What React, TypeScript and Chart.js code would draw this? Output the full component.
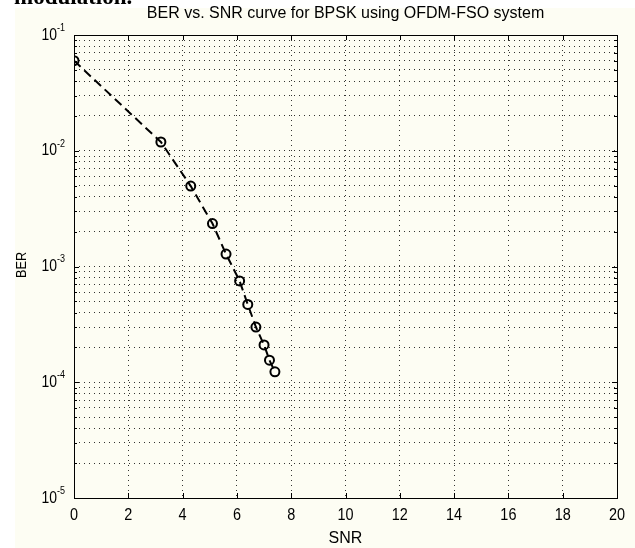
import React, { useEffect, useRef } from "react";
import { Chart, registerables } from "chart.js";

Chart.register(...registerables);

const snr = [0, 3.2, 4.3, 5.1, 5.6, 6.1, 6.4, 6.7, 7.0, 7.2, 7.4];
const ber = [0.06, 0.0119, 0.00495, 0.00235, 0.00128, 0.00075, 0.00047, 0.0003, 0.00021, 0.000155, 0.000123];
const xTicks = [0, 2, 4, 6, 8, 10, 12, 14, 16, 18, 20];
const yDecades = [-5, -4, -3, -2, -1];
const titleText = "BER vs. SNR curve for BPSK using OFDM-FSO system";
const xLabel = "SNR";
const yLabel = "BER";
const captionText = "modulation.";

const BG = "#fdfdf3";
const FONT = '"Liberation Sans", Arial, sans-serif';
const GRID = "rgba(0,0,0,0.8)";

function logTicks(): number[] {
  const out: number[] = [];
  for (let i = 0; i < yDecades.length; i++) {
    const d = yDecades[i];
    if (i === yDecades.length - 1) {
      out.push(Math.pow(10, d));
    } else {
      for (let m = 1; m <= 9; m++) out.push(m * Math.pow(10, d));
    }
  }
  return out;
}

function scaledText(ctx: any, text: string, x: number, y: number, font: string, sx: number, align: string, rot = 0) {
  ctx.save();
  ctx.translate(x, y);
  if (rot) ctx.rotate(rot);
  ctx.scale(sx, 1);
  ctx.font = font;
  ctx.textAlign = align;
  ctx.textBaseline = "middle";
  ctx.fillText(text, 0, 0);
  ctx.restore();
}

const decorPlugin = {
  id: "decor",
  beforeDraw(chart: any) {
    const ctx = chart.ctx;
    ctx.save();
    ctx.fillStyle = "#ffffff";
    ctx.fillRect(0, 0, chart.width, chart.height);
    ctx.fillStyle = BG;
    ctx.fillRect(15, 8, chart.width - 15, chart.height - 8);
    ctx.restore();
  },
  afterDraw(chart: any) {
    const ctx = chart.ctx;
    const a = chart.chartArea;
    const xs = chart.scales.x;
    const ys = chart.scales.y;
    ctx.save();
    // box
    ctx.strokeStyle = "#000";
    ctx.lineWidth = 1;
    ctx.setLineDash([]);
    ctx.strokeRect(Math.round(a.left) + 0.5, Math.round(a.top) + 0.5, Math.round(a.right - a.left), Math.round(a.bottom - a.top));
    // tick marks
    ctx.beginPath();
    xTicks.forEach((v) => {
      const px = Math.round(xs.getPixelForValue(v)) + 0.5;
      ctx.moveTo(px, a.bottom);
      ctx.lineTo(px, a.bottom - 5);
      ctx.moveTo(px, a.top);
      ctx.lineTo(px, a.top + 5);
    });
    logTicks().forEach((v) => {
      const py = Math.round(ys.getPixelForValue(v)) + 0.5;
      const major = Math.abs(Math.log10(v) - Math.round(Math.log10(v))) < 1e-9;
      const len = major ? 5 : 3;
      ctx.moveTo(a.left, py);
      ctx.lineTo(a.left + len, py);
      ctx.moveTo(a.right, py);
      ctx.lineTo(a.right - len, py);
    });
    ctx.stroke();

    ctx.fillStyle = "#000";
    // x tick labels
    xTicks.forEach((v) => {
      const px = xs.getPixelForValue(v);
      scaledText(ctx, String(v), px, 515, "17px " + FONT, 0.85, "center");
    });
    // y tick labels 10^k
    yDecades.forEach((d) => {
      const py = ys.getPixelForValue(Math.pow(10, d));
      scaledText(ctx, "10", 57, py, "17px " + FONT, 0.82, "right");
      scaledText(ctx, String(d), 57, py - 7, "10px " + FONT, 0.9, "left");
    });
    // title
    scaledText(ctx, titleText, (a.left + a.right) / 2, 14, "16px " + FONT, 1.0, "center");
    // x label
    scaledText(ctx, xLabel, (a.left + a.right) / 2, 539, "16px " + FONT, 1.0, "center");
    // y label
    scaledText(ctx, yLabel, 22, 265, "15px " + FONT, 0.85, "center", -Math.PI / 2);
    // clipped caption at top
    ctx.font = 'bold 23px "Liberation Serif", "Times New Roman", serif';
    ctx.textAlign = "left";
    ctx.textBaseline = "alphabetic";
    ctx.fillText(captionText, 14, 4);
    ctx.restore();
  },
};

export default function App() {
  const ref = useRef<HTMLCanvasElement | null>(null);
  useEffect(() => {
    if (!ref.current) return;
    const chart = new Chart(ref.current, {
      type: "line",
      data: {
        datasets: [
          {
            data: snr.map((x, i) => ({ x, y: ber[i] })),
            borderColor: "#000",
            borderWidth: 2,
            borderDash: [9, 5],
            pointStyle: "circle",
            pointRadius: 4.5,
            pointBorderWidth: 2,
            pointBorderColor: "#000",
            pointBackgroundColor: "rgba(0,0,0,0)",
            fill: false,
            tension: 0,
          },
        ],
      },
      options: {
        responsive: false,
        animation: false,
        events: [],
        layout: { padding: { left: 0, right: 18, top: 35, bottom: 0 } },
        plugins: { legend: { display: false }, tooltip: { enabled: false }, title: { display: false } },
        scales: {
          x: {
            type: "linear",
            min: 0,
            max: 20,
            afterBuildTicks: (scale: any) => {
              scale.ticks = xTicks.map((v) => ({ value: v }));
            },
            afterFit: (scale: any) => {
              scale.height = 50;
            },
            ticks: { display: false, autoSkip: false },
            grid: { color: GRID, lineWidth: 1, drawTicks: false },
            border: { display: false, dash: [1, 4] },
          },
          y: {
            type: "logarithmic",
            min: 1e-5,
            max: 1e-1,
            afterBuildTicks: (scale: any) => {
              scale.ticks = logTicks().map((v) => ({ value: v }));
            },
            afterFit: (scale: any) => {
              scale.width = 74;
            },
            ticks: { display: false, autoSkip: false },
            grid: { color: GRID, lineWidth: 1, drawTicks: false },
            border: { display: false, dash: [1, 4] },
          },
        },
      },
      plugins: [decorPlugin],
    });
    return () => chart.destroy();
  }, []);
  return (
    <div style={{ position: "fixed", left: 0, top: 0, width: 635, height: 548, background: "#fff" }}>
      <canvas ref={ref} width={635} height={548} />
    </div>
  );
}
